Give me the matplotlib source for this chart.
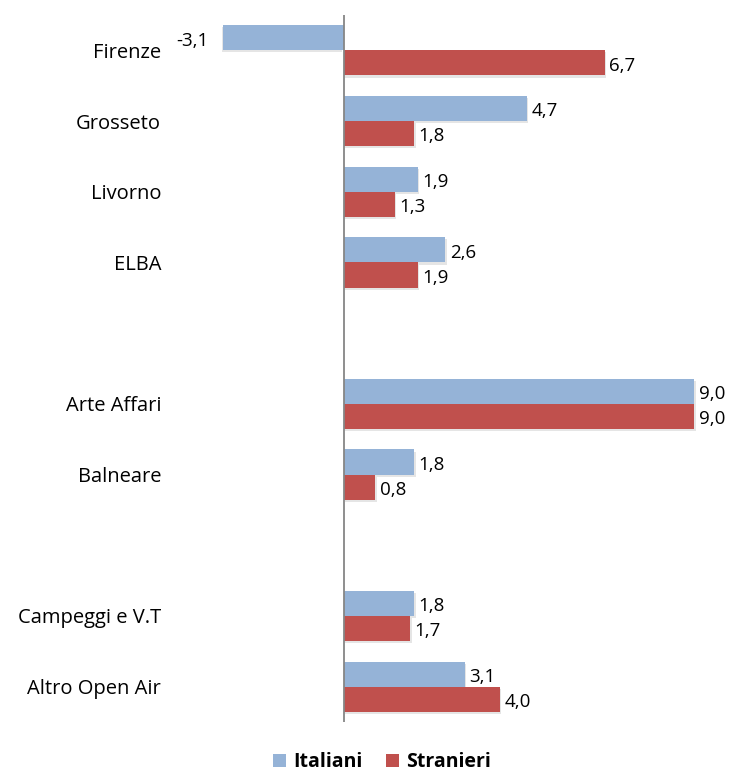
import numpy as np
import matplotlib.pyplot as plt
from matplotlib.patches import Patch

# categories, "" = empty gap row
categorie = ["Firenze", "Grosseto", "Livorno", "ELBA", "", "Arte Affari",
             "Balneare", "", "Campeggi e V.T", "Altro Open Air"]
italiani = [-3.1, 4.7, 1.9, 2.6, None, 9.0, 1.8, None, 1.8, 3.1]
stranieri = [6.7, 1.8, 1.3, 1.9, None, 9.0, 0.8, None, 1.7, 4.0]

c_ita = "#95B3D7"
c_str = "#C0504D"

plt.rcParams['font.family'] = ['Open Sans', 'DejaVu Sans']

fig = plt.figure(figsize=(7.41, 7.74), dpi=100)
ax = fig.add_axes([175/741, 1 - 722/774, 555/741, 707/774])

n = len(categorie)
y = np.arange(n)
h = 0.355

def fmt(v):
    return f"{v:.1f}".replace(".", ",")

for i in range(n):
    for v, off, col in ((italiani[i], -h/2, c_ita), (stranieri[i], h/2, c_str)):
        if v is None:
            continue
        # light shadow
        ax.barh(y[i] + off + 0.03, v, height=h, left=0.04 if v > 0 else -0.04,
                color="#000000", alpha=0.10, zorder=1, linewidth=0)
        ax.barh(y[i] + off, v, height=h, color=col, zorder=2, linewidth=0)
        if v >= 0:
            ax.text(v + 0.12, y[i] + off + 0.04, fmt(v), ha="left", va="center",
                    fontsize=13.5, color="black")
        else:
            ax.text(v - 0.38, y[i] + off + 0.05, fmt(v), ha="right", va="center",
                    fontsize=13.5, color="black")

ax.set_xlim(-4.34, 9.92)
ax.set_ylim(n - 0.5, -0.5)
ax.axvline(0, color="#868686", linewidth=1.3, zorder=3)
ax.set_yticks(y)
ax.set_yticklabels(categorie, fontsize=14.5)
ax.tick_params(axis="y", length=0, pad=10)
ax.set_xticks([])
for s in ax.spines.values():
    s.set_visible(False)

handles = [Patch(facecolor=c_ita, label="Italiani"), Patch(facecolor=c_str, label="Stranieri")]
leg = fig.legend(handles=handles, loc="center", bbox_to_anchor=(382/741, 1 - 762/774),
                 ncol=2, frameon=False, handlelength=0.65, handleheight=0.65,
                 handletextpad=0.4, columnspacing=1.2, borderpad=0.2,
                 prop={"weight": "bold", "size": 14})

fig.savefig("out.png", dpi=100)
